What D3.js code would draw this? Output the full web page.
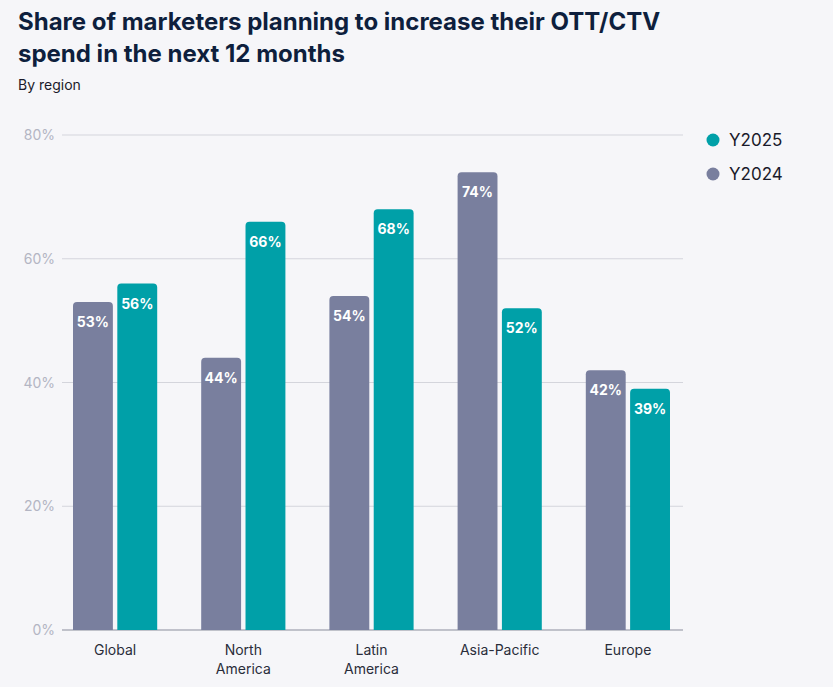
<!DOCTYPE html>
<html><head><meta charset="utf-8">
<script src="https://cdn.jsdelivr.net/npm/d3@7"></script>
<style>body{margin:0;background:#f6f6f9;font-family:Inter,"Open Sans",sans-serif;}</style>
</head><body><svg id="c" width="833" height="687"></svg>
<script>
const categories = [["Global"],["North","America"],["Latin","America"],["Asia-Pacific"],["Europe"]];
const catKeys = ["Global","North America","Latin America","Asia-Pacific","Europe"];
const seriesNames = ["Y2024","Y2025"];
const y2024 = [53,44,54,74,42];
const y2025 = [56,66,68,52,39];
const yTicks = [0,20,40,60,80];
const colors = {Y2024:"#797f9e", Y2025:"#00a0a8"};

const svg = d3.select("#c");
svg.append("rect").attr("width",833).attr("height",687).attr("fill","#f6f6f9");
const t = svg.append("text").attr("x",18).attr("fill","#0e1f3d").attr("font-size",24).attr("font-weight",700);
t.append("tspan").attr("x",18).attr("y",30).text("Share of marketers planning to increase their OTT/CTV");
t.append("tspan").attr("x",18).attr("y",62).text("spend in the next 12 months");
svg.append("text").attr("x",18).attr("y",90).attr("font-size",14).attr("fill","#1a1a2a").text("By region");

const y = d3.scaleLinear().domain([0,80]).range([630,135]);
const x0 = d3.scaleBand().domain(catKeys).range([51,692]);
const x1 = d3.scaleBand().domain(seriesNames).range([22,x0.bandwidth()-22]).paddingInner(0.1);

yTicks.forEach(v=>{
  svg.append("line").attr("x1",62).attr("x2",683).attr("y1",y(v)).attr("y2",y(v))
    .attr("stroke",v===0?"#8a8d9c":"#d4d5dc").attr("stroke-width",1);
  svg.append("text").attr("x",55).attr("y",y(v)+5).attr("text-anchor","end")
    .attr("font-size",14).attr("fill","#b3b5c3").text(v+"%");
});

function topRounded(x,yy,w,h,r){
  return `M${x},${yy+h}V${yy+r}Q${x},${yy} ${x+r},${yy}H${x+w-r}Q${x+w},${yy} ${x+w},${yy+r}V${yy+h}Z`;
}
const data = catKeys.map((c,i)=>({c, vals:[{s:"Y2024",v:y2024[i]},{s:"Y2025",v:y2025[i]}]}));
data.forEach((d,i)=>{
  const g = svg.append("g").attr("transform",`translate(${x0(d.c)},0)`);
  d.vals.forEach(b=>{
    g.append("path").attr("d",topRounded(x1(b.s),y(b.v),x1.bandwidth(),y(0)-y(b.v),4)).attr("fill",colors[b.s]);
    g.append("text").attr("x",x1(b.s)+x1.bandwidth()/2).attr("y",y(b.v)+25).attr("text-anchor","middle")
      .attr("font-size",14).attr("font-weight",700).attr("fill","#fff").text(b.v+"%");
  });
  categories[i].forEach((l,j)=>{
    svg.append("text").attr("x",x0(d.c)+x0.bandwidth()/2).attr("y",655+j*19).attr("text-anchor","middle")
      .attr("font-size",14).attr("fill","#2a2d3a").text(l);
  });
});

["Y2025","Y2024"].forEach((s,i)=>{
  svg.append("circle").attr("cx",713).attr("cy",140+i*34).attr("r",6.5).attr("fill",colors[s]);
  svg.append("text").attr("x",729).attr("y",146+i*34).attr("font-size",17).attr("fill","#1a1a2a").text(s);
});
</script></body></html>
